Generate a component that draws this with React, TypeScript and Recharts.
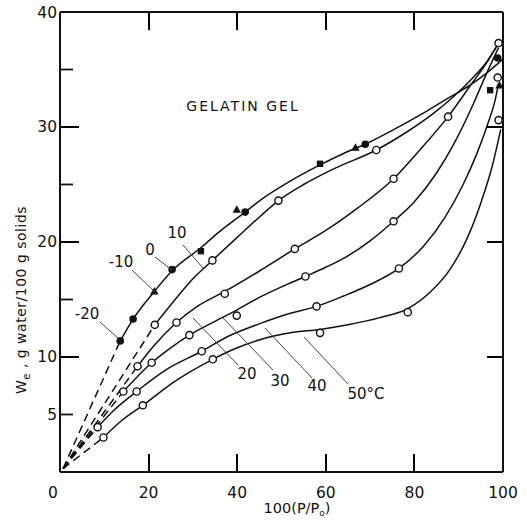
import { ComposedChart, Line, Scatter, XAxis, YAxis } from "recharts";

type Pt = { x: number; y: number };
const pts = (a: number[][]): Pt[] => a.map(([x, y]) => ({ x, y }));

const xTicks = [0, 10, 20, 30, 40, 50, 60, 70, 80, 90, 100];
const yTicks = [0, 5, 10, 15, 20, 25, 30, 35, 40];
const xInner = [10, 20, 30, 40, 50, 60, 70, 80, 90];
const yInner = [5, 10, 15, 20, 25, 30, 35];
const xLabels = [0, 20, 40, 60, 80, 100];
const yLabels = [5, 10, 20, 30, 40];
const xMajor = [20, 40, 60, 80];
const yMajor = [10, 20, 30];

// sorption curves (solid part)
const curveSub = pts([
  [13.6, 11.4], [16.5, 13.3], [21.3, 15.7], [25.3, 17.5], [31.8, 19.5], [36, 20.9],
  [41.8, 22.6], [45.1, 23.6], [52, 25.3], [58.7, 26.7], [64, 27.7], [68.9, 28.5],
  [75, 29.7], [82, 31.2], [88, 32.6], [92, 33.5], [96, 34.6], [100, 35.9],
]);
const curve10 = pts([
  [21.4, 12.8], [26, 15.0], [30, 16.8], [34.4, 18.4], [40, 20.4], [45.1, 22.2],
  [49.3, 23.6], [55, 25.0], [62, 26.4], [71.4, 28.0], [78, 29.5], [84, 31.1],
  [89, 32.7], [93, 34.2], [96, 35.5], [99, 37.3],
]);
const curve20 = pts([
  [17.5, 9.2], [21, 10.9], [26.3, 13.0], [31, 14.4], [37.2, 15.7], [45.1, 17.5],
  [53, 19.4], [60, 21.0], [67, 22.9], [75.3, 25.5], [81, 27.9], [87.6, 30.9],
  [93, 33.8], [96, 35.4], [99, 37.3],
]);
const curve30 = pts([
  [14.3, 7.0], [20.7, 9.5], [25, 10.8], [29.2, 11.9], [35, 13.1], [40, 14.1],
  [45.1, 15.2], [50, 16.1], [55.4, 17.0], [60, 17.8], [65, 18.8], [70, 20.1],
  [75.3, 21.8], [80, 23.5], [85, 26.0], [89, 28.6], [93.3, 32.0], [96, 34.4], [99, 36.9],
]);
const curve40 = pts([
  [8.5, 3.9], [12, 5.3], [17.3, 7.0], [24, 8.9], [32, 10.5], [38, 11.8], [45.1, 12.9],
  [52, 13.8], [57.9, 14.4], [64, 15.3], [70, 16.3], [76.5, 17.7], [82, 19.6], [87, 22.2],
  [91, 25.0], [94, 27.6], [96.5, 30.2], [98.2, 32.3], [99, 33.8],
]);
const curve50 = pts([
  [9.8, 3.0], [14, 4.5], [18.7, 5.8], [26, 7.9], [34.5, 9.8], [40, 10.8], [45.1, 11.5],
  [52, 12.1], [58.7, 12.4], [65, 12.8], [72, 13.4], [78.5, 14.2], [84, 15.8], [88, 17.6],
  [92, 20.4], [95, 23.4], [97.5, 26.5], [99.5, 29.8],
]);

// dashed extrapolations toward the origin
const dashSub = pts([[0.7, 0.3], [13.6, 11.4]]);
const dash10 = pts([[0.7, 0.3], [21.4, 12.8]]);
const dash20 = pts([[0.7, 0.3], [17.5, 9.2]]);
const dash30 = pts([[0.7, 0.3], [14.3, 7.0]]);
const dash40 = pts([[0.7, 0.3], [8.5, 3.9]]);
const dash50 = pts([[0.7, 0.3], [9.8, 3.0]]);

// measured points
const filledCircles = pts([[13.6, 11.4], [16.5, 13.3], [25.3, 17.6], [41.8, 22.6], [68.9, 28.5], [98.8, 36.0]]);
const triangles = pts([[21.3, 15.7], [39.9, 22.8], [66.7, 28.2], [99.2, 33.6]]);
const squares = pts([[31.8, 19.2], [58.7, 26.8], [97.1, 33.2]]);
const open10 = pts([[21.4, 12.8], [34.4, 18.4], [49.3, 23.6], [71.4, 28.0], [99, 37.3]]);
const open20 = pts([[17.5, 9.2], [26.3, 13.0], [37.2, 15.5], [53, 19.4], [75.3, 25.5], [87.6, 30.9]]);
const open30 = pts([[14.3, 7.0], [20.7, 9.5], [29.2, 11.9], [39.9, 13.6], [55.4, 17.0], [75.3, 21.8]]);
const open40 = pts([[8.5, 3.9], [17.3, 7.0], [32, 10.5], [57.9, 14.4], [76.5, 17.7], [98.8, 34.3]]);
const open50 = pts([[9.8, 3.0], [18.7, 5.8], [34.5, 9.8], [58.7, 12.1], [78.5, 13.9], [99, 30.6]]);

const INK = "#111";
const FONT = "DejaVu Sans, sans-serif";

// plot box in page pixels; chart margins below are derived from it
const W = 527;
const H = 520;
const PL = 60;
const PR = 503;
const PT = 12;
const PB = 472;
const px = (v: number) => Math.round(PL + (v / 100) * (PR - PL));
const py = (v: number) => Math.round(PB - (v / 40) * (PB - PT));

// inward tick lengths drawn by the axes themselves (negative tickSize points inward)
const BOTTOM_T = 11;
const LEFT_T = 13;

const BottomTick = ({ x, y, payload }: any) => {
  const v = payload.value;
  if (!xLabels.includes(v)) return <g />;
  return (
    <text x={v === 0 ? x - 7 : x} y={y} dy={BOTTOM_T + 15} textAnchor="middle" fontSize={15.5} fontFamily={FONT} fill={INK}>
      {v}
    </text>
  );
};

const LeftTick = ({ x, y, payload }: any) => {
  const v = payload.value;
  if (!yLabels.includes(v)) return <g />;
  return (
    <text x={x - LEFT_T - 3} y={y} dy={5.5} textAnchor="end" fontSize={15.5} fontFamily={FONT} fill={INK}>
      {v}
    </text>
  );
};

const OpenDot = (p: any) => <circle cx={p.cx} cy={p.cy} r={3.6} fill="#fff" stroke={INK} strokeWidth={1.4} />;
const FilledDot = (p: any) => <circle cx={p.cx} cy={p.cy} r={3.8} fill={INK} />;
const SquareDot = (p: any) => <rect x={p.cx - 3.2} y={p.cy - 3.2} width={6.4} height={6.4} fill={INK} />;
const TriDot = (p: any) => (
  <polygon points={`${p.cx},${p.cy - 4.5} ${p.cx - 4.2},${p.cy + 3} ${p.cx + 4.2},${p.cy + 3}`} fill={INK} />
);

const solidCurves = [curveSub, curve10, curve20, curve30, curve40, curve50];
const dashCurves = [dashSub, dash10, dash20, dash30, dash40, dash50];

// temperature labels and their leader lines (pixel positions)
const notes = [
  { t: "-20", x: 87, y: 319, l: [100, 322, 119, 339] },
  { t: "-10", x: 121, y: 267, l: [132, 270, 155, 292] },
  { t: "0", x: 150, y: 255, l: [155, 257, 172, 270] },
  { t: "10", x: 177, y: 238, l: [183, 245, 203, 268] },
  { t: "20", x: 247, y: 379, l: [193, 318, 238, 365] },
  { t: "30", x: 280, y: 386, l: [223, 318, 273, 370] },
  { t: "40", x: 317, y: 391, l: [265, 328, 312, 378] },
  { t: "50°C", x: 366, y: 399, l: [304, 337, 348, 384] },
];

// longer major ticks on top of the axis ticks: [x, y, w, h]
const majorBars: number[][] = [
  ...xMajor.map((v) => [px(v) - 1, PB - 18, 2, 18]),
  ...xMajor.map((v) => [px(v) - 1, PT, 2, 18]),
  ...yMajor.map((v) => [PL, py(v) - 1, 19, 2]),
  ...yMajor.map((v) => [PR - 16, py(v) - 1, 16, 2]),
];

const tickLineStyle = { stroke: INK, strokeWidth: 1.8 };

export default function App() {
  return (
    <div style={{ position: "absolute", left: 0, top: 0, width: W, height: H, background: "#fff" }}>
      <ComposedChart width={W} height={H} margin={{ top: PT - 10, right: W - PR - 10, bottom: H - PB - 30, left: 0 }}>
        <XAxis
          xAxisId={0}
          type="number"
          dataKey="x"
          domain={[0, 100]}
          ticks={xTicks}
          interval={0}
          height={30}
          tickSize={0}
          tickMargin={0}
          tickLine={false}
          tick={BottomTick}
          axisLine={{ stroke: INK, strokeWidth: 2 }}
        />
        <XAxis
          xAxisId="btick"
          type="number"
          dataKey="x"
          domain={[0, 100]}
          ticks={xInner}
          interval={0}
          height={0.01}
          tickSize={-BOTTOM_T}
          tickLine={tickLineStyle}
          tick={false}
          axisLine={false}
          hide={false}
        />
        <XAxis
          xAxisId="top"
          orientation="top"
          type="number"
          dataKey="x"
          domain={[0, 100]}
          ticks={xInner}
          interval={0}
          height={10}
          tickSize={-12}
          tickLine={tickLineStyle}
          tick={false}
          axisLine={{ stroke: INK, strokeWidth: 2 }}
        />
        <YAxis
          yAxisId={0}
          type="number"
          dataKey="y"
          domain={[0, 40]}
          ticks={yTicks}
          interval={0}
          width={PL}
          tickSize={-LEFT_T}
          tickMargin={0}
          tickLine={tickLineStyle}
          tick={LeftTick}
          axisLine={{ stroke: INK, strokeWidth: 2 }}
        />
        <YAxis
          yAxisId="right"
          orientation="right"
          type="number"
          dataKey="y"
          domain={[0, 40]}
          ticks={yInner}
          interval={0}
          width={10}
          tickSize={-11}
          tickLine={tickLineStyle}
          tick={false}
          axisLine={{ stroke: INK, strokeWidth: 2 }}
        />
        {dashCurves.map((d, i) => (
          <Line
            key={`d${i}`}
            data={d}
            dataKey="y"
            type="linear"
            stroke={INK}
            strokeWidth={1.5}
            strokeDasharray="8 5"
            dot={false}
            isAnimationActive={false}
          />
        ))}
        {solidCurves.map((d, i) => (
          <Line
            key={`s${i}`}
            data={d}
            dataKey="y"
            type="monotone"
            stroke={INK}
            strokeWidth={1.5}
            dot={false}
            isAnimationActive={false}
          />
        ))}
        {[open10, open20, open30, open40, open50].map((d, i) => (
          <Scatter key={`o${i}`} data={d} dataKey="y" shape={OpenDot} isAnimationActive={false} />
        ))}
        <Scatter data={filledCircles} dataKey="y" shape={FilledDot} isAnimationActive={false} />
        <Scatter data={triangles} dataKey="y" shape={TriDot} isAnimationActive={false} />
        <Scatter data={squares} dataKey="y" shape={SquareDot} isAnimationActive={false} />
      </ComposedChart>
      <svg
        width={W}
        height={H}
        style={{ position: "absolute", left: 0, top: 0, pointerEvents: "none" }}
        fontFamily={FONT}
        fill={INK}
      >
        {majorBars.map((b, i) => (
          <rect key={`mb${i}`} x={b[0]} y={b[1]} width={b[2]} height={b[3]} fill="#000" />
        ))}
        <text x={243} y={111} textAnchor="middle" fontSize={14} letterSpacing={2}>
          GELATIN GEL
        </text>
        {notes.map((n) => (
          <g key={n.t}>
            <line x1={n.l[0]} y1={n.l[1]} x2={n.l[2]} y2={n.l[3]} stroke="#444" strokeWidth={1} />
            <text x={n.x} y={n.y} textAnchor="middle" fontSize={15}>
              {n.t}
            </text>
          </g>
        ))}
        <text transform="translate(26,300) rotate(-90)" textAnchor="middle" fontSize={14} letterSpacing={0.5}>
          W<tspan fontSize={10} dy={4}>e</tspan>
          <tspan dy={-4}> ,   g water/100 g solids</tspan>
        </text>
        <text x={297} y={513} textAnchor="middle" fontSize={14.5}>
          100(P/P<tspan fontSize={9} dy={3}>o</tspan>
          <tspan dy={-3}>)</tspan>
        </text>
      </svg>
    </div>
  );
}
